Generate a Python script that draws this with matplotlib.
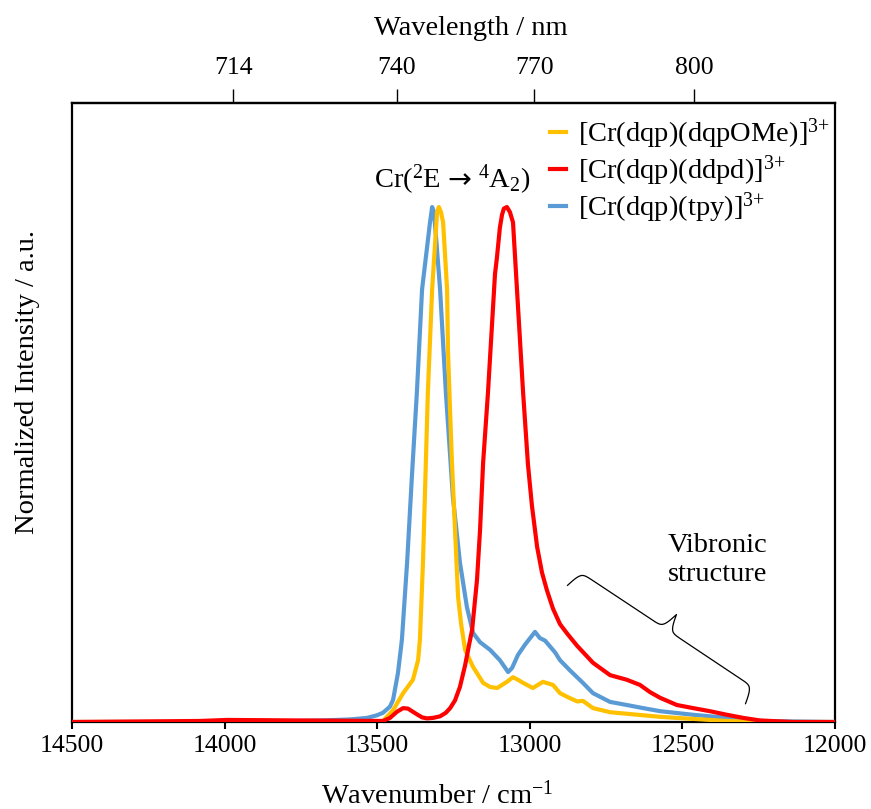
import numpy as np
import matplotlib
matplotlib.use("Agg")
import matplotlib.pyplot as plt
from matplotlib.lines import Line2D
from matplotlib.offsetbox import TextArea, HPacker, AnnotationBbox

plt.rcParams['font.family'] = ['Liberation Serif', 'DejaVu Serif']
plt.rcParams['mathtext.fontset'] = 'custom'
plt.rcParams['mathtext.rm'] = 'Liberation Serif'
plt.rcParams['mathtext.it'] = 'Liberation Serif:italic'
plt.rcParams['mathtext.bf'] = 'Liberation Serif:bold'

# ---------------- data ----------------
labels = ["[Cr(dqp)(dqpOMe)]$^{3{+}}$", "[Cr(dqp)(ddpd)]$^{3{+}}$", "[Cr(dqp)(tpy)]$^{3{+}}$"]
colors = ["#FFC000", "#FF0000", "#5B9BD5"]

# [Cr(dqp)(tpy)]3+  (blue)
tpy_wn = [14500, 13917, 13678, 13589, 13533, 13501, 13481, 13458, 13448, 13432, 13419,
          13402, 13386, 13370, 13353, 13337, 13327, 13320, 13314, 13307, 13294, 13275,
          13252, 13229, 13206, 13186, 13163, 13130, 13098, 13071, 13058, 13039, 13016,
          12983, 12967, 12950, 12917, 12901, 12868, 12826, 12793, 12737, 12682, 12629,
          12573, 12465, 12354, 12246, 12000]
tpy_int = [0.0, 0.0, 0.003, 0.005, 0.008, 0.013, 0.018, 0.030, 0.043, 0.095, 0.16,
           0.31, 0.48, 0.64, 0.84, 0.92, 0.97, 1.0, 0.99, 0.94, 0.84, 0.64,
           0.437, 0.31, 0.223, 0.173, 0.155, 0.14, 0.12, 0.097, 0.105, 0.13, 0.15,
           0.175, 0.163, 0.158, 0.135, 0.12, 0.10, 0.076, 0.056, 0.039, 0.033, 0.027,
           0.021, 0.014, 0.008, 0.002, 0.0]

# [Cr(dqp)(dqpOMe)]3+  (yellow)
ome_wn = [14500, 13524, 13481, 13448, 13415, 13383, 13366, 13360, 13350, 13334, 13320,
          13307, 13304, 13298, 13291, 13284, 13271, 13268, 13261, 13255, 13245, 13235,
          13225, 13212, 13186, 13153, 13130, 13107, 13075, 13055, 13039, 13022, 12990,
          12957, 12924, 12901, 12878, 12845, 12826, 12793, 12737, 12682, 12573, 12465,
          12354, 12246, 12000]
ome_int = [0.0, 0.0, 0.002, 0.023, 0.056, 0.082, 0.12, 0.16, 0.31, 0.64, 0.84,
           0.96, 0.99, 1.0, 0.99, 0.97, 0.84, 0.72, 0.60, 0.503, 0.373, 0.243,
           0.19, 0.14, 0.107, 0.076, 0.068, 0.066, 0.078, 0.087, 0.082, 0.076, 0.066,
           0.078, 0.072, 0.056, 0.049, 0.040, 0.041, 0.027, 0.019, 0.016, 0.010, 0.006,
           0.002, 0.0, 0.0]

# [Cr(dqp)(ddpd)]3+  (red)
ddpd_wn = [14500, 14081, 13992, 13753, 13481, 13458, 13435, 13415, 13399, 13386, 13370,
           13353, 13337, 13317, 13294, 13275, 13261, 13245, 13229, 13212, 13199, 13189,
           13173, 13163, 13153, 13137, 13124, 13114, 13108, 13098, 13091, 13085, 13075,
           13065, 13055, 13042, 13032, 13022, 13006, 12993, 12976, 12960, 12944, 12924,
           12901, 12878, 12845, 12793, 12737, 12682, 12639, 12606, 12573, 12518, 12465,
           12410, 12354, 12301, 12246, 12138, 12000]
ddpd_int = [0.0, 0.002, 0.004, 0.003, 0.002, 0.008, 0.020, 0.027, 0.026, 0.021, 0.015,
            0.009, 0.007, 0.008, 0.011, 0.018, 0.027, 0.042, 0.068, 0.11, 0.15, 0.179,
            0.276, 0.373, 0.503, 0.64, 0.77, 0.87, 0.90, 0.96, 0.985, 0.997, 1.0,
            0.99, 0.97, 0.84, 0.74, 0.64, 0.50, 0.42, 0.34, 0.29, 0.256, 0.22,
            0.19, 0.172, 0.148, 0.115, 0.091, 0.082, 0.072, 0.058, 0.047, 0.033, 0.027,
            0.021, 0.014, 0.008, 0.003, 0.0, 0.0]

# bottom axis ticks (wavenumber) and top axis (wavelength) labels with their positions
wn_ticks = [14500, 14000, 13500, 13000, 12500, 12000]
wl_tick_labels = ["714", "740", "770", "800"]
wl_tick_pos = [13972, 13435, 12986, 12462]

FS = 20.5
TFS = 18.5

# ---------------- figure ----------------
fig = plt.figure(figsize=(8.71, 8.09), dpi=100)
ax = fig.add_axes([72 / 871, 87 / 809, 763 / 871, 619 / 809])

lw = 3.0
ax.plot(tpy_wn, tpy_int, color=colors[2], lw=lw, solid_joinstyle='round', zorder=3)
ax.plot(ome_wn, ome_int, color=colors[0], lw=lw, solid_joinstyle='round', zorder=4)
ax.plot(ddpd_wn, ddpd_int, color=colors[1], lw=lw, solid_joinstyle='round', zorder=5)

ax.set_xlim(14500, 12000)
ax.set_ylim(0, 1.202)

for s in ax.spines.values():
    s.set_linewidth(1.6)
    s.set_color('black')

ax.set_yticks([])
ax.set_xticks(wn_ticks)
ax.set_xticklabels([str(t) for t in wn_ticks])
ax.tick_params(axis='x', direction='out', length=5, width=1.5, labelsize=TFS, pad=4.5)

ax.set_xlabel("Wavenumber / cm$^{-1}$", fontsize=FS)
ax.xaxis.label.set_va('center')
ax.xaxis.set_label_coords((437 - 72) / 763, (722 - 795) / 619)

ax.set_ylabel("Normalized Intensity / a.u.", fontsize=FS)
ax.yaxis.label.set_va('center')
ax.yaxis.set_label_coords((27 - 72) / 763, (722 - 382) / 619)

# top axis (wavelength)
sec = ax.secondary_xaxis('top')
sec.set_xticks(wl_tick_pos)
sec.set_xticklabels(wl_tick_labels)
sec.tick_params(axis='x', direction='out', length=10, width=1.0, labelsize=TFS, pad=7)
sec.spines['top'].set_linewidth(1.6)
ax.text((471 - 72) / 763, (722 - 28) / 619, "Wavelength / nm", transform=ax.transAxes,
        ha='center', va='center', fontsize=FS)

# legend
handles = [Line2D([], [], color=c, lw=lw) for c in colors]
leg = ax.legend(handles, labels, loc='upper left',
                bbox_to_anchor=((550 - 72) / 763, (722 - 117) / 619),
                frameon=False, fontsize=FS, handlelength=0.55, handletextpad=0.45,
                labelspacing=0.08, borderpad=0, borderaxespad=0)

# transition label with a wider arrow glyph
tp = dict(fontsize=FS, family='Liberation Serif')
t1 = TextArea("Cr($^{2}$E", textprops=tp)
t2 = TextArea("\u2192", textprops=dict(fontsize=FS, family='DejaVu Sans'))
t3 = TextArea("$^{4}$A$_{2}$)", textprops=tp)
box = HPacker(children=[t1, t2, t3], align='baseline', pad=0, sep=5)
ab = AnnotationBbox(box, ((452 - 72) / 763, (722 - 180) / 619), xycoords='axes fraction',
                    frameon=False, box_alignment=(0.5, 0.5), pad=0)
ax.add_artist(ab)

# vibronic structure label
ax.text((718 - 72) / 763, (722 - 560) / 619, "Vibronic\nstructure",
        transform=ax.transAxes, ha='center', va='center', fontsize=FS, linespacing=1.2)

# curly brace (built in axes-pixel space, drawn in axes fraction)
W, H = 763.0, 619.0
A = np.array([580 - 72, 722 - 572], dtype=float)
B = np.array([753 - 72, 722 - 687], dtype=float)
u = (B - A) / np.linalg.norm(B - A)
n = np.array([-u[1], u[0]])
if n[0] < 0:
    n = -n
A2 = A - 3 * u
B2 = B + 3 * u
L = np.linalg.norm(B2 - A2)
beta = 0.45
k = 36.0
s_half = np.linspace(0, L / 2, 200)
v_half = 1 / (1 + np.exp(-beta * s_half)) + 1 / (1 + np.exp(-beta * (s_half - L / 2)))
s_full = np.concatenate([s_half, L - s_half[-2::-1]])
v_full = np.concatenate([v_half, v_half[-2::-1]])
v_full = (v_full - 1.0) * k
pts = A2[None, :] + s_full[:, None] * u[None, :] + v_full[:, None] * n[None, :]
ax.plot(pts[:, 0] / W, pts[:, 1] / H, color='black', lw=0.9, transform=ax.transAxes,
        clip_on=False, zorder=6)

fig.savefig("out.png", dpi=100)
